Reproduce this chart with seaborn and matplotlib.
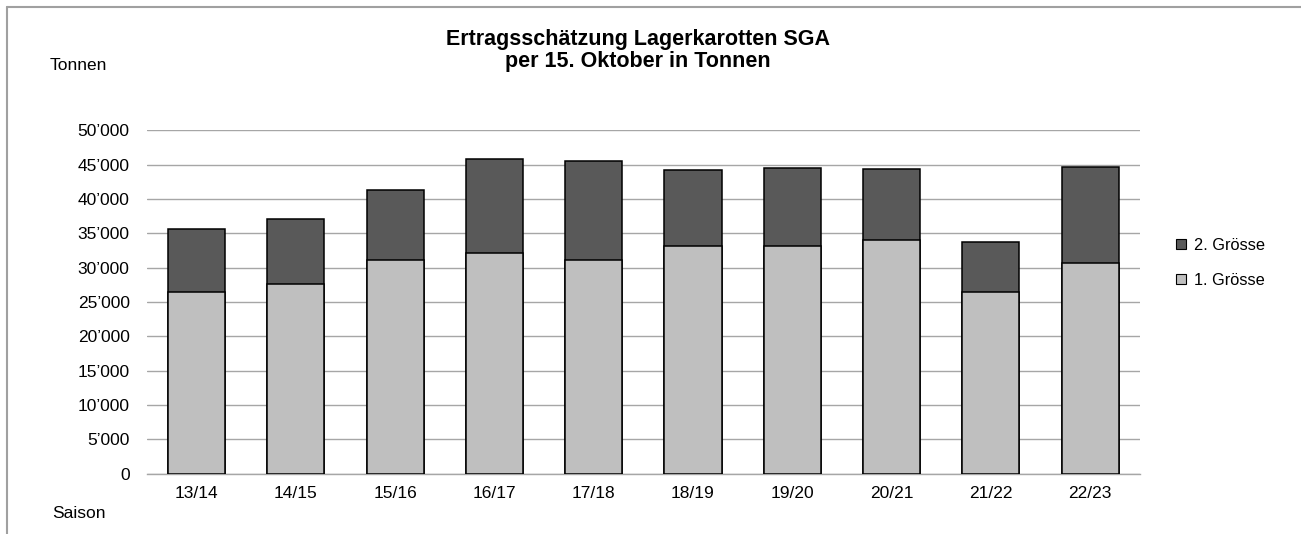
import matplotlib
matplotlib.use("Agg")
import matplotlib.pyplot as plt
import seaborn as sns
import pandas as pd
from matplotlib.lines import Line2D
from matplotlib.ticker import FuncFormatter

# Data (tonnes)
seasons = ["13/14", "14/15", "15/16", "16/17", "17/18", "18/19", "19/20", "20/21", "21/22", "22/23"]
size1 = [26500, 27550, 31050, 32100, 31100, 33100, 33150, 34000, 26500, 30600]
size2 = [9100, 9550, 10250, 13700, 14400, 11100, 11400, 10400, 7200, 14000]

df = pd.DataFrame({"Saison": seasons, "1. Grösse": size1, "2. Grösse": size2})
df["Total"] = df["1. Grösse"] + df["2. Grösse"]

dark = "#595959"
light = "#bfbfbf"
grid_c = "#a6a6a6"

sns.set_style("white")
plt.rcParams["font.family"] = ["Liberation Sans", "DejaVu Sans"]
plt.rcParams["font.size"] = 12.5
plt.rcParams["text.color"] = "black"

fig = plt.figure(figsize=(13.01, 5.34), dpi=100)
ax = fig.add_axes([0.113, 0.1131, 0.763, 0.643])

# stacked bars: total (2. Grösse on top) then 1. Grösse over it
sns.barplot(data=df, x="Saison", y="Total", color=dark, edgecolor="black",
            linewidth=1.1, width=0.575, saturation=1, ax=ax, zorder=3)
sns.barplot(data=df, x="Saison", y="1. Grösse", color=light, edgecolor="black",
            linewidth=1.1, width=0.575, saturation=1, ax=ax, zorder=4)

ax.set_ylim(0, 50000)
ax.set_xlim(-0.5, len(seasons) - 0.5)
ax.set_yticks(range(0, 50001, 5000))
ax.yaxis.set_major_formatter(FuncFormatter(
    lambda v, p: "0" if v == 0 else f"{int(v):,}".replace(",", "\u2019")))
ax.grid(axis="y", color=grid_c, linewidth=1.0, zorder=0)
ax.set_axisbelow(True)
for s in ["top", "right", "left"]:
    ax.spines[s].set_visible(False)
ax.spines["bottom"].set_color(grid_c)
ax.spines["bottom"].set_linewidth(1.0)
ax.tick_params(axis="both", length=0, labelsize=12.5, colors="black")
ax.tick_params(axis="y", pad=12.5)
ax.tick_params(axis="x", pad=9)
ax.set_xlabel("")
ax.set_ylabel("")

fig.text(0.4905, 0.945, "Ertragsschätzung Lagerkarotten SGA\nper 15. Oktober in Tonnen",
         ha="center", va="top", fontsize=15.5, fontweight="bold", linespacing=1.05,
         color="black")
fig.text(0.038, 0.878, "Tonnen", ha="left", va="center", fontsize=12.5)
fig.text(0.040, 0.039, "Saison", ha="left", va="center", fontsize=12.5)

handles = [
    Line2D([], [], marker="s", linestyle="none", markersize=7,
           markerfacecolor=dark, markeredgecolor="black", markeredgewidth=0.8),
    Line2D([], [], marker="s", linestyle="none", markersize=7,
           markerfacecolor=light, markeredgecolor="black", markeredgewidth=0.8),
]
fig.legend(handles, ["2. Grösse", "1. Grösse"], loc="center left",
           bbox_to_anchor=(0.890, 0.508), frameon=False, fontsize=11.8,
           labelspacing=1.2, handletextpad=0.3, handlelength=1.0)

# chart area frame (top and left edges visible)
fig.add_artist(Line2D([0.0055, 1.0], [0.987, 0.987], color="#a0a0a0", linewidth=1.5))
fig.add_artist(Line2D([0.0055, 0.0055], [0.0, 0.987], color="#a0a0a0", linewidth=1.5))

fig.savefig("out.png", dpi=100)
